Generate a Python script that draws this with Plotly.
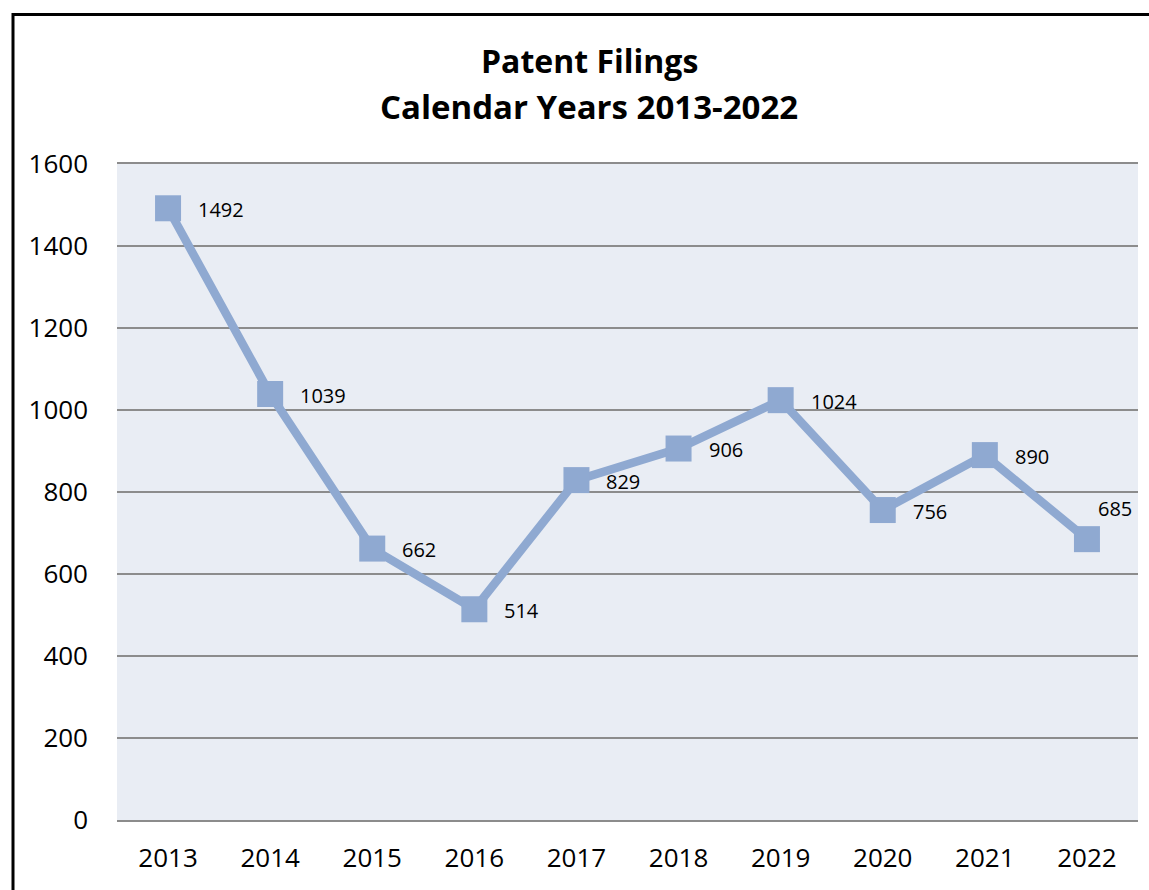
import plotly.graph_objects as go

years = ["2013", "2014", "2015", "2016", "2017", "2018", "2019", "2020", "2021", "2022"]
filings = [1492, 1039, 662, 514, 829, 906, 1024, 756, 890, 685]
label_dx = [28, 28, 28, 28, 28, 28, 28, 28, 28, 9]
label_dy = [-1, -1, -1, -1, -1, -1, -1, -1, -1, 31]
y_ticks = [0, 200, 400, 600, 800, 1000, 1200, 1400, 1600]

W, H = 1149, 890
L, R, T, B = 117, 11, 164, 70
pw, ph = W - L - R, H - T - B

def px_x(p):
    return (p - L) / pw

def px_y(p):
    return (H - B - p) / ph

FONT = "Open Sans"
line_color = "#8FA9D1"
grid_color = "#8C8C8C"

fig = go.Figure()
fig.add_trace(go.Scatter(
    x=years, y=filings,
    mode="lines+markers",
    line=dict(color=line_color, width=8.5),
    marker=dict(symbol="square", size=26, color=line_color),
    cliponaxis=False,
    hoverinfo="x+y",
))

annotations = [
    dict(text="<b>Patent Filings</b>", xref="paper", yref="paper",
         x=px_x(589), y=px_y(60), xanchor="center", yanchor="middle",
         showarrow=False, font=dict(family=FONT, size=32, color="#000000")),
    dict(text="<b>Calendar Years 2013-2022</b>", xref="paper", yref="paper",
         x=px_x(589), y=px_y(106), xanchor="center", yanchor="middle",
         showarrow=False, font=dict(family=FONT, size=33, color="#000000")),
]
for i, (v, dx, dy) in enumerate(zip(filings, label_dx, label_dy)):
    annotations.append(dict(
        x=i, y=v, xref="x", yref="y", text=str(v), showarrow=False,
        xanchor="left", yanchor="middle", xshift=dx, yshift=dy,
        font=dict(family=FONT, size=20, color="#000000"),
    ))

fig.update_layout(
    width=W, height=H,
    margin=dict(l=L, r=R, t=T, b=B, pad=0),
    paper_bgcolor="#FFFFFF",
    plot_bgcolor="#E9EDF4",
    showlegend=False,
    font=dict(family=FONT, color="#000000"),
    xaxis=dict(
        type="category",
        categoryorder="array", categoryarray=years,
        range=[-0.5, len(years) - 0.5],
        showgrid=False,
        showline=True, mirror=True, linecolor=grid_color, linewidth=1.5,
        ticks="", tickfont=dict(family=FONT, size=26, color="#000000"),
        ticklabelstandoff=14,
        fixedrange=True,
    ),
    yaxis=dict(
        range=[0, 1600],
        tickvals=y_ticks,
        showgrid=True, gridcolor=grid_color, gridwidth=1.5,
        zeroline=True, zerolinecolor=grid_color, zerolinewidth=1.5,
        showline=False,
        ticks="", tickfont=dict(family=FONT, size=26, color="#000000"),
        ticklabelstandoff=28,
        fixedrange=True,
    ),
    annotations=annotations,
    shapes=[
        dict(type="rect", xref="paper", yref="paper",
             x0=px_x(13), y0=px_y(H + 50), x1=px_x(W + 50), y1=px_y(14.5),
             line=dict(color="#000000", width=3), fillcolor="rgba(0,0,0,0)",
             layer="above"),
    ],
)

fig.write_html(
    "out.html",
    config={"displayModeBar": False},
    post_script="document.body.style.margin='0';document.body.style.overflow='hidden';",
)
